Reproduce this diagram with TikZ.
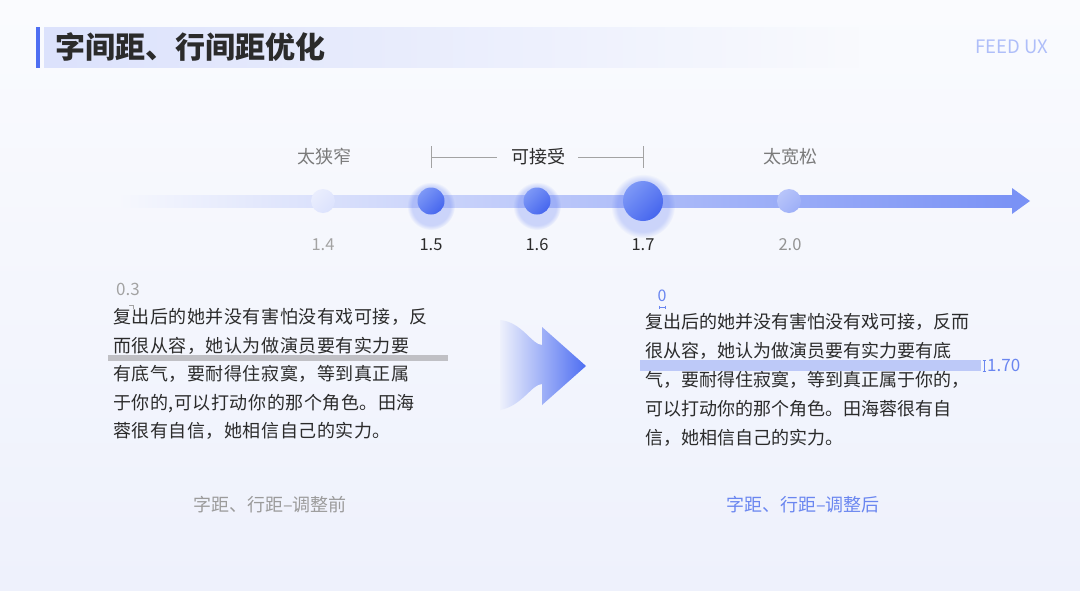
\documentclass[tikz,border=0pt]{standalone}
\usepackage{fontspec}
\setmainfont{Noto Sans CJK SC}
\setsansfont{Noto Sans CJK SC}
\newfontfamily\cjkwide[LetterSpace=3]{Noto Sans CJK SC}
\usetikzlibrary{positioning,fadings}

\definecolor{bgtop}{HTML}{FAFBFE}
\definecolor{bgbot}{HTML}{EEF1FC}
\definecolor{accent}{HTML}{4E6EF2}
\definecolor{ballhi}{HTML}{7D98F6}
\definecolor{balllo}{HTML}{4666EE}
\definecolor{inkdark}{HTML}{2B2B2B}
\definecolor{inkgray}{HTML}{7A7A7A}
\definecolor{numgray}{HTML}{A3A3A3}
\definecolor{linkblue}{HTML}{6A86F0}
\definecolor{barblue}{HTML}{BDC9F8}
\definecolor{bargray}{HTML}{C0C0C5}

\tikzset{
  lbl/.style={inner sep=0pt, font=\fontsize{18}{20}\selectfont},
  num/.style={inner sep=0pt, font=\fontsize{16.5}{18}\selectfont, text=inkdark},
  para/.style={inner sep=0pt, anchor=north west, align=left, text=inkdark},
  ball/.style={circle, inner sep=0pt, left color=ballhi, right color=balllo, shading angle=45},
  glow/.style={fill=accent, opacity=0.25, path fading=circle with fuzzy edge 20 percent},
  brk/.style={draw=numgray, line width=0.8pt}
}

\begin{document}
\begin{tikzpicture}[x=1pt,y=-1pt]
  \useasboundingbox (0,0) rectangle (1080,590);
  \shade[top color=bgtop, bottom color=bgbot] (0,0) rectangle (1080,590);

  % title
  \fill[accent!20, path fading=east] (44,27) rectangle (860,68);
  \fill[accent] (36,27) rectangle (40,68);
  \node[anchor=west, inner sep=0pt, text=inkdark,
    font=\fontsize{30}{32}\selectfont\bfseries] (title) at (55,47) {字间距、行间距优化};
  \node[inner sep=0pt, font=\fontsize{18.5}{20}\selectfont, text=accent!45] (brand) at (1012,47) {FEED UX};

  % scale
  \coordinate (tstart) at (120,195);
  \coordinate (tend) at (1013,207);
  \shade[left color=bgbot!34!bgtop, middle color=accent!22, right color=accent!75]
    (tstart) rectangle (tend);
  \fill[accent!75] (1012,188) -- (1030,201) -- (1012,214) -- cycle;

  \fill[glow] (431,206) circle (24);
  \fill[glow] (537,206) circle (24);
  \fill[glow] (643,206) circle (32);

  \node[circle, inner sep=0pt, minimum size=24pt, left color=accent!12, right color=accent!20,
    shading angle=45] (d14) at (323,201) {};
  \node[ball, minimum size=27pt] (d15) at (431,201) {};
  \node[ball, minimum size=27pt] (d16) at (537,201) {};
  \node[ball, minimum size=40pt] (d17) at (643,201) {};
  \node[circle, inner sep=0pt, minimum size=24pt, left color=accent!40, right color=accent!55,
    shading angle=45] (d20) at (789,201) {};

  \node[num, text=numgray] (n14) at (323,245) {1.4};
  \node[num] (n15) at (431,245) {1.5};
  \node[num] (n16) at (537,245) {1.6};
  \node[num] (n17) at (643,245) {1.7};
  \node[num, text=numgray!90!black] (n20) at (790,245) {2.0};

  \node[lbl, text=inkgray] (narrow) at (324,157) {太狭窄};
  \node[lbl, text=inkdark] (ok) at (538,157) {可接受};
  \node[lbl, text=inkgray] (loose) at (790,157) {太宽松};

  \coordinate (bl) at (431,157);
  \coordinate (br) at (643,157);
  \draw[brk] (431,146) -- (431,168);
  \draw[brk] (643,146) -- (643,168);
  \draw[brk] (bl) -- ([xshift=-14pt]ok.west);
  \draw[brk] ([xshift=13pt]ok.east) -- (br);

  % before
  \fill[bargray] (108,355) rectangle (448,361);
  \node[inner sep=0pt, font=\fontsize{17}{19}\selectfont, text=numgray] (sp03) at (128,289) {0.3};
  \draw[numgray, line width=0.5pt] (129,305) -- (133,305) -- (133,309);
  \node[para, font=\cjkwide\fontsize{18}{28.6}\selectfont] (before) at (113,308)
    {复出后的她并没有害怕没有戏可接，反\\
     而很从容，她认为做演员要有实力要\\
     有底气，要耐得住寂寞，等到真正属\\
     于你的,可以打动你的那个角色。田海\\
     蓉很有自信，她相信自己的实力。};
  \node[lbl, text=numgray!95!black] (capbefore) at (270,505) {字距、行距–调整前};

  % arrow
  \shade[left color=bgbot, middle color=accent!26, right color=accent]
    (500,320) .. controls (522,322) and (532,345) .. (542,345)
    -- (542,327) -- (586,366) -- (542,405) -- (542,384)
    .. controls (532,384) and (522,406) .. (500,410) -- cycle;

  % after
  \fill[barblue] (640,360) rectangle (981,371);
  \draw[linkblue, line width=0.5pt] (984,360) -- (984,371)
    (982.5,360) -- (985.5,360) (982.5,371) -- (985.5,371);
  \node[anchor=west, inner sep=0pt, font=\fontsize{17}{19}\selectfont, text=linkblue] (lh170) at (987,365) {1.70};
  \node[inner sep=0pt, font=\fontsize{16}{18}\selectfont, text=linkblue] (sp0) at (662,296) {0};
  \draw[linkblue, line width=0.5pt] (659,307) -- (665,307)
    (659,305.5) -- (659,308.5) (665,305.5) -- (665,308.5);
  \node[para, font=\fontsize{18}{29}\selectfont] (after) at (645,313)
    {复出后的她并没有害怕没有戏可接，反而\\
     很从容，她认为做演员要有实力要有底\\
     气，要耐得住寂寞，等到真正属于你的，\\
     可以打动你的那个角色。田海蓉很有自\\
     信，她相信自己的实力。};
  \node[lbl, text=linkblue] (capafter) at (803,505) {字距、行距–调整后};
\end{tikzpicture}
\end{document}
